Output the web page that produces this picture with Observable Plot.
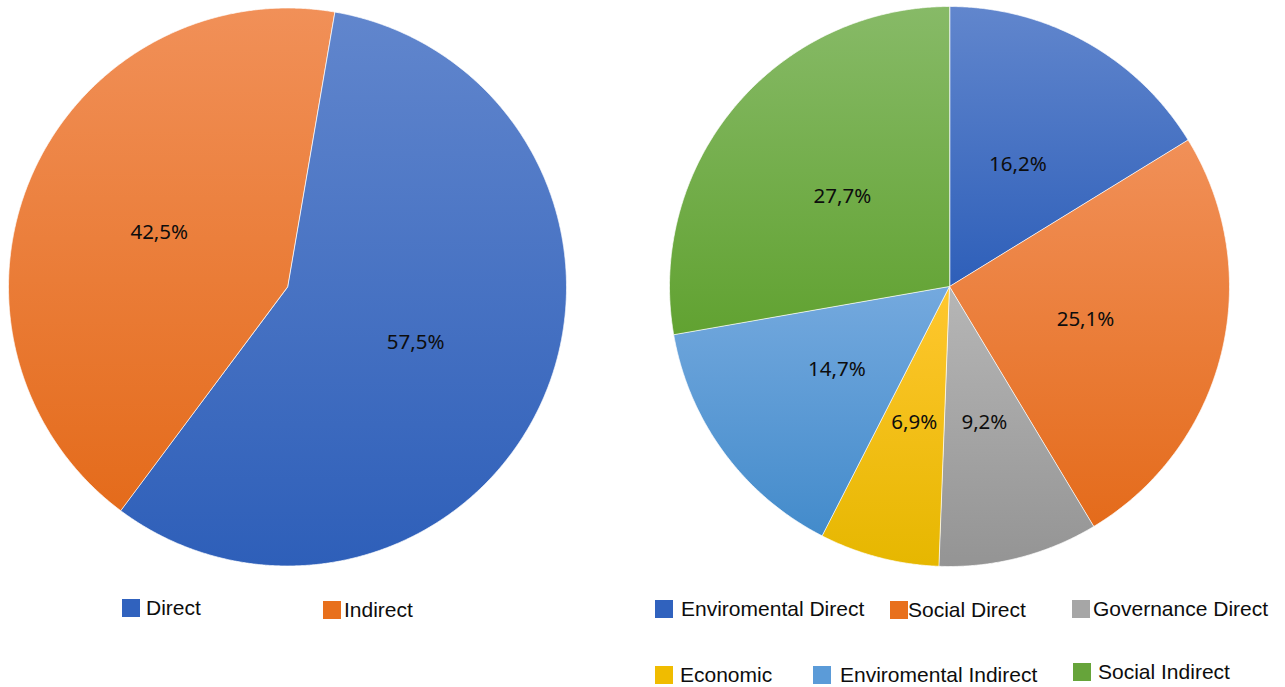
<!DOCTYPE html>
<html>
<head>
<meta charset="utf-8">
<script src="https://cdn.jsdelivr.net/npm/d3@7"></script>
<script src="https://cdn.jsdelivr.net/npm/@observablehq/plot@0.6"></script>
<style>
  html, body { margin: 0; padding: 0; background: #fff; }
  #wrap { position: relative; width: 1285px; height: 687px; overflow: hidden; background: #fff; }
  .pie { position: absolute; top: 0; }
  .item { position: absolute; display: flex; align-items: flex-start; font-family: "Liberation Sans", Arial, sans-serif; font-size: 21px; line-height: 18px; color: #0d0d0d; white-space: nowrap; }
  .sw { display: inline-block; width: 18px; height: 18px; flex: none; }
</style>
</head>
<body>
<div id="wrap"></div>
<script>
// ---- data ----
const leftCats = ["Direct", "Indirect"];
const leftValues = [57.5, 42.5];
const rightCats = ["Enviromental Direct", "Social Direct", "Governance Direct", "Economic", "Enviromental Indirect", "Social Indirect"];
const rightValues = [16.2, 25.1, 9.2, 6.9, 14.7, 27.7];

// ---- styles ----
const leftTops = ["#6186cd", "#f19058"];
const leftBottoms = ["#2e5fb9", "#e46b1b"];
const leftSwatch = ["#3062be", "#e8701c"];
const rightTops = ["#6186cd", "#f19058", "#b6b6b6", "#ffc72f", "#74a9de", "#87ba67"];
const rightBottoms = ["#2e5fb9", "#e46b1b", "#949494", "#e6b700", "#438bcb", "#61a231"];
const rightSwatch = ["#3062be", "#e8701c", "#a6a6a6", "#f0bc00", "#5b9bd8", "#66a43a"];

const fmt = v => v.toFixed(1).replace(".", ",") + "%";
const svgNS = "http://www.w3.org/2000/svg";

function pieChart({cats, values, startDeg, width, height, cx, cy, r, idPrefix, tops, bottoms}) {
  const s = startDeg * Math.PI / 180;
  const arcs = d3.pie().sort(null).value(d => d.value).startAngle(s).endAngle(s + 2 * Math.PI)(
    cats.map((c, i) => ({cat: c, value: values[i]}))
  );
  const pts = [];
  arcs.forEach(a => {
    const cat = a.data.cat;
    pts.push({cat, x: 0, y: 0});
    const n = Math.max(2, Math.ceil((a.endAngle - a.startAngle) / (Math.PI / 720)));
    for (let i = 0; i <= n; i++) {
      const t = a.startAngle + (a.endAngle - a.startAngle) * i / n;
      pts.push({cat, x: Math.sin(t), y: Math.cos(t)});
    }
  });
  const labels = arcs.map(a => {
    const m = (a.startAngle + a.endAngle) / 2;
    return {x: 0.5 * Math.sin(m), y: 0.5 * Math.cos(m), text: fmt(a.data.value)};
  });
  const svg = Plot.plot({
    width, height, margin: 0,
    style: {fontFamily: "'Noto Sans', sans-serif", background: "white", overflow: "visible"},
    x: {domain: [-1, 1], range: [cx - r, cx + r], axis: null},
    y: {domain: [-1, 1], range: [cy + r, cy - r], axis: null},
    color: {domain: cats, range: cats.map((c, i) => `url(#${idPrefix}${i})`)},
    marks: [
      Plot.line(pts, {x: "x", y: "y", z: "cat", fill: "cat", stroke: "white", strokeWidth: 1, strokeOpacity: 0.7, curve: "linear-closed"}),
      Plot.text(labels, {x: "x", y: "y", text: "text", fontSize: 20.5, fill: "#0d0d0d"})
    ]
  });
  const defs = document.createElementNS(svgNS, "defs");
  cats.forEach((c, i) => {
    const g = document.createElementNS(svgNS, "linearGradient");
    g.setAttribute("id", idPrefix + i);
    g.setAttribute("x1", "0"); g.setAttribute("y1", "0");
    g.setAttribute("x2", "0"); g.setAttribute("y2", "1");
    [[0, tops[i]], [1, bottoms[i]]].forEach(([o, col]) => {
      const st = document.createElementNS(svgNS, "stop");
      st.setAttribute("offset", o);
      st.setAttribute("stop-color", col);
      g.appendChild(st);
    });
    defs.appendChild(g);
  });
  svg.insertBefore(defs, svg.firstChild);
  svg.classList.add("pie");
  return svg;
}

const wrap = document.getElementById("wrap");

const left = pieChart({cats: leftCats, values: leftValues, startDeg: 9.7, width: 642, height: 580,
  cx: 287, cy: 286.5, r: 279, idPrefix: "gl", tops: leftTops, bottoms: leftBottoms});
left.style.left = "0px";
wrap.appendChild(left);

const right = pieChart({cats: rightCats, values: rightValues, startDeg: 0, width: 643, height: 580,
  cx: 307, cy: 286, r: 280, idPrefix: "gr", tops: rightTops, bottoms: rightBottoms});
right.style.left = "642px";
wrap.appendChild(right);

// ---- legends (layout positions) ----
const leftLegendPos = [[122, 599, 6], [323, 601, 3]];
const rightLegendPos = [[655, 600, 8], [890, 601, 0], [1072, 600, 3], [655, 666, 7], [813, 666, 9], [1073, 663, 7]];

function addLegend(cats, colors, pos) {
  cats.forEach((c, i) => {
    const [x, y, gap] = pos[i];
    const item = document.createElement("div");
    item.className = "item";
    item.style.left = x + "px";
    item.style.top = y + "px";
    const sw = document.createElement("span");
    sw.className = "sw";
    sw.style.background = colors[i];
    const tx = document.createElement("span");
    tx.textContent = c;
    tx.style.marginLeft = gap + "px";
    item.appendChild(sw);
    item.appendChild(tx);
    wrap.appendChild(item);
  });
}
addLegend(leftCats, leftSwatch, leftLegendPos);
addLegend(rightCats, rightSwatch, rightLegendPos);
</script>
</body>
</html>
